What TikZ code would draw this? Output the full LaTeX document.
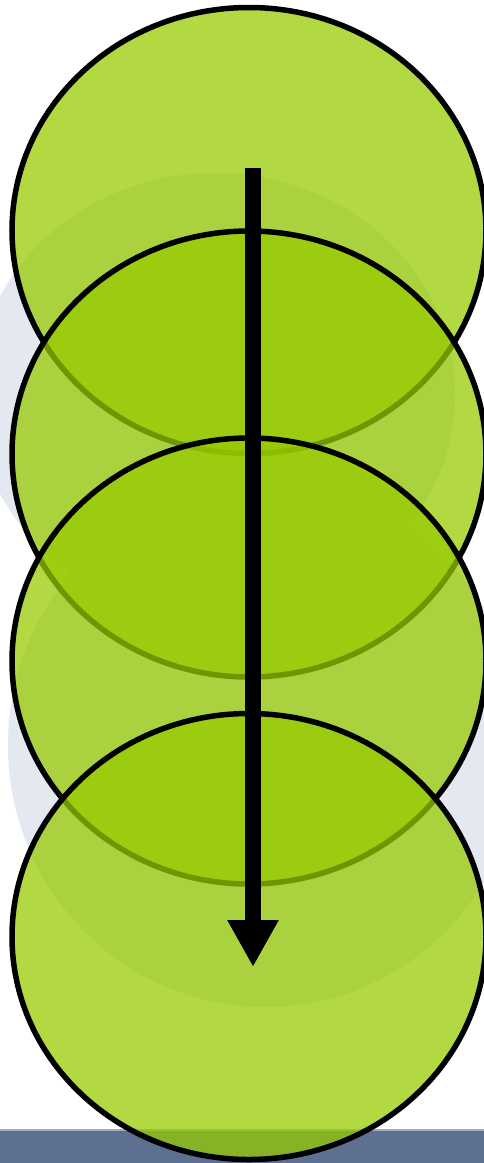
\documentclass[tikz,border=0pt]{standalone}
\usetikzlibrary{shapes.geometric,arrows.meta}
\definecolor{grC}{RGB}{151,202,0}
\definecolor{bgC}{RGB}{228,233,241}
\definecolor{barC}{RGB}{94,112,145}
\definecolor{barTop}{RGB}{160,172,196}
\tikzset{
  bubble/.style={ellipse, draw=black, line width=5.5pt, fill=grC, fill opacity=0.74,
    draw opacity=1, minimum width=474pt, minimum height=446pt, inner sep=0pt, outer sep=0pt},
  flowarrow/.style={line width=16pt, -{Triangle[length=47pt,width=48pt]}}
}
\begin{document}
\begin{tikzpicture}[x=1pt,y=-1pt]
\useasboundingbox (0,0) rectangle (484,1163);
\clip (0,0) rectangle (484,1163);
% faint background shapes
\fill[bgC] (215,395) ellipse [x radius=240, y radius=222];
\fill[bgC] (265,745) ellipse [x radius=257, y radius=262];
% bottom bar
\fill[barC] (0,1129) rectangle (484,1163);
\fill[barTop] (0,1129) rectangle (484,1130.5);
% circles
\node[bubble] (c1) at (249,230.5) {};
\node[bubble] (c2) at (249,454) {};
\node[bubble] (c3) at (249,661) {};
\node[bubble] (c4) at (249,936.5) {};
% arrow
\coordinate (as) at (253,168);
\coordinate (ae) at (253,967);
\draw[flowarrow] (as) -- (ae);
\end{tikzpicture}
\end{document}
